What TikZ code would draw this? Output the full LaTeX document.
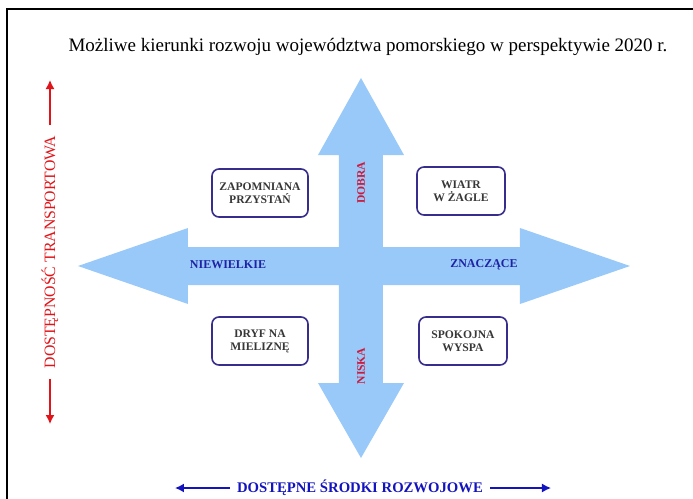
\documentclass[tikz,border=0pt]{standalone}
\usepackage{fontspec}
\setmainfont{Liberation Serif}
\usetikzlibrary{arrows.meta}

\definecolor{crossblue}{RGB}{153,201,248}
\definecolor{axisred}{RGB}{225,20,25}
\definecolor{axisblue}{RGB}{20,20,190}
\definecolor{labelred}{RGB}{205,25,60}
\definecolor{labelblue}{RGB}{30,35,165}
\definecolor{boxline}{RGB}{55,45,140}
\definecolor{boxtext}{RGB}{55,55,55}

\begin{document}
\begin{tikzpicture}[x=0.5pt,y=-0.5pt,
    scenario/.style={draw=boxline, line width=0.8pt, rounded corners=3.5pt,
        minimum width=48pt, minimum height=24pt, align=center, inner sep=1pt,
        text=boxtext, font=\fontsize{5.8}{6.6}\selectfont\bfseries},
    level/.style={text=labelred, rotate=90, font=\fontsize{5.8}{7}\selectfont\bfseries},
    size/.style={text=labelblue, font=\fontsize{6}{7}\selectfont\bfseries},
    axis/.style={line width=0.7pt, -{Latex[length=4.5pt,width=4.5pt]}}]
\useasboundingbox (0,0) rectangle (693,499);
% frame
\draw[line width=1pt] (693,9) -- (7,9) -- (7,499);
% title
\node (title) at (368,47) {\fontsize{9.5}{11}\selectfont Możliwe kierunki rozwoju województwa pomorskiego w perspektywie 2020 r.};
% cross of arrows
\fill[crossblue] (361,78) -- (404,155) -- (383,155) -- (383,247) -- (520,247)
    -- (520,228) -- (630,266) -- (520,304) -- (520,285) -- (383,285)
    -- (383,383) -- (404,383) -- (361,458) -- (318,383) -- (339,383)
    -- (339,285) -- (188,285) -- (188,304) -- (78,266) -- (188,228)
    -- (188,247) -- (339,247) -- (339,155) -- (318,155) -- cycle;
\node[level] (dobra) at (361,183) {DOBRA};
\node[level] (niska) at (361,366) {NISKA};
\node[size] (niew) at (228,265) {NIEWIELKIE};
\node[size] (znacz) at (484,265) {ZNACZĄCE};
% scenarios
\node[scenario] (zap) at (260,193) {ZAPOMNIANA\\PRZYSTAŃ};
\node[scenario, minimum width=44pt] (wiatr) at (461,191) {WIATR\\W ŻAGLE};
\node[scenario] (dryf) at (260,341) {DRYF NA\\MIELIZNĘ};
\node[scenario, minimum width=44pt] (spok) at (463,341) {SPOKOJNA\\WYSPA};
% axes
\node[text=axisred, rotate=90, inner sep=5pt, font=\fontsize{7.9}{9}\selectfont] (transport) at (50,252) {DOSTĘPNOŚĆ TRANSPORTOWA};
\coordinate (tTop) at (50,80);
\coordinate (tBot) at (50,424);
\draw[axis, axisred] (transport) -- (tTop);
\draw[axis, axisred] (transport) -- (tBot);
\node[text=axisblue, inner sep=3.5pt, font=\fontsize{7.35}{9}\selectfont\bfseries] (srodki) at (360,488) {DOSTĘPNE ŚRODKI ROZWOJOWE};
\coordinate (sLeft) at (175,488);
\coordinate (sRight) at (551,488);
\draw[axis, axisblue] (srodki) -- (sLeft);
\draw[axis, axisblue] (srodki) -- (sRight);
\end{tikzpicture}
\end{document}
